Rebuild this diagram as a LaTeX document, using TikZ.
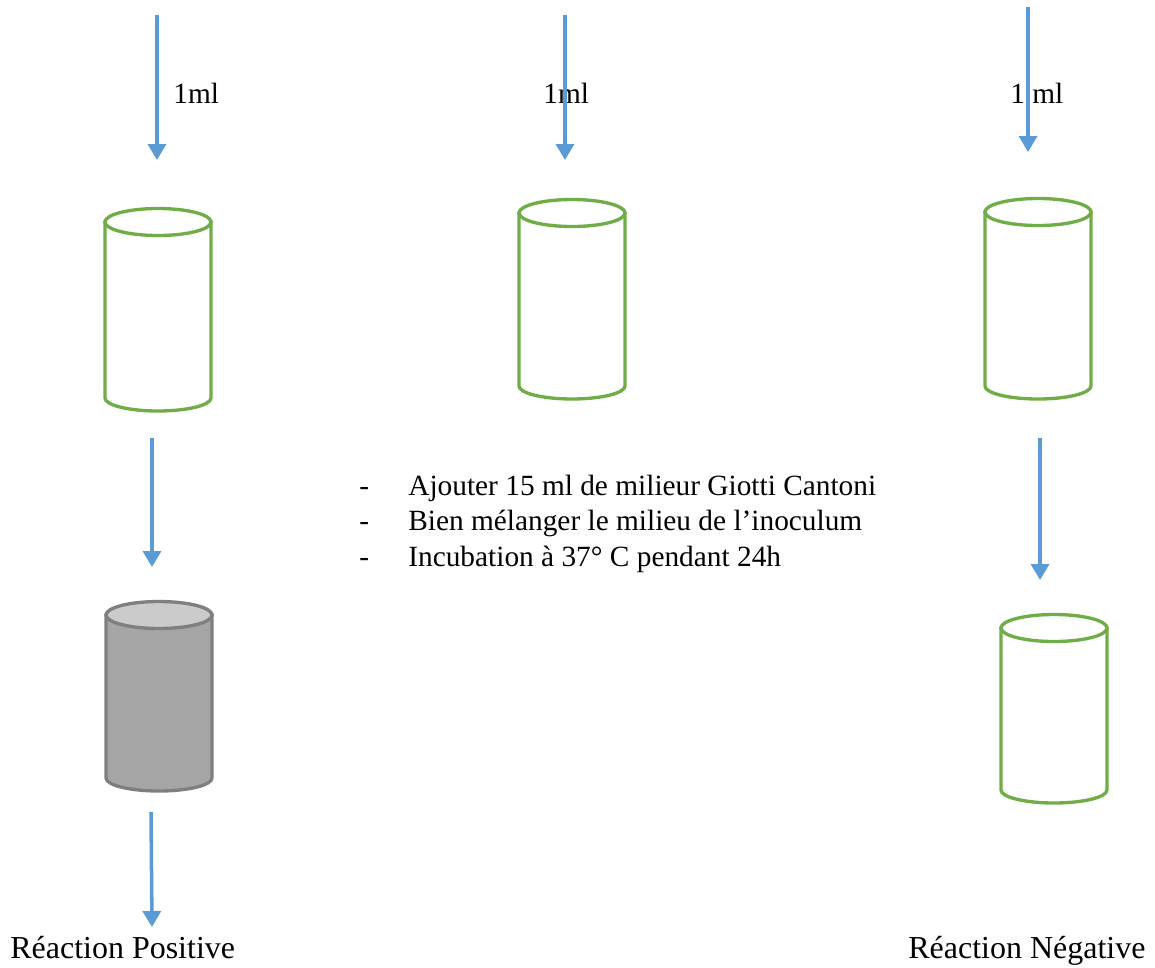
\documentclass[tikz,border=0pt]{standalone}
\usepackage{fontspec}
\setmainfont{Liberation Serif}
\usetikzlibrary{arrows.meta}

\definecolor{flowblue}{HTML}{5B9BD5}
\definecolor{tubegreen}{HTML}{70AD47}
\definecolor{tubegrey}{HTML}{A5A5A5}
\definecolor{tubetop}{HTML}{CBCBCB}
\definecolor{tubeedge}{HTML}{7F7F7F}

% cylinder: #1 centre x, #2 top centre y, #3 bottom centre y, #4 style of the body, #5 style of the top
\newcommand{\tube}[5]{%
  \path[#4] (#1-53,#2) -- (#1-53,#3)
    arc[start angle=180, end angle=360, x radius=1.06cm, y radius=0.26cm]
    -- (#1+53,#2) -- cycle;
  \path[#5] (#1,#2) ellipse[x radius=1.06cm, y radius=0.27cm];
}

\begin{document}
\begin{tikzpicture}[x=0.02cm, y=-0.02cm,
  flow/.style={draw=flowblue, line width=2pt,
    -{Triangle[length=0.32cm, width=0.36cm]}},
  greenwall/.style={draw=tubegreen, line width=1.9pt, fill=white},
  greywall/.style={draw=tubeedge, line width=1.9pt, fill=tubegrey},
  greytop/.style={draw=tubeedge, line width=1.9pt, fill=tubetop},
  lbl/.style={inner sep=0pt, anchor=base west, font=\fontsize{18.2}{20.6}\selectfont},
  small/.style={lbl, font=\fontsize{16.7}{19}\selectfont}]

\useasboundingbox (0,0) rectangle (1155,967);

% test tubes
\tube{158}{222}{398}{greenwall}{greenwall}
\tube{572}{213}{386}{greenwall}{greenwall}
\tube{1038}{212}{386}{greenwall}{greenwall}
\tube{159}{615}{778}{greywall}{greytop}
\tube{1054}{628}{790}{greenwall}{greenwall}

% arrow end points
\coordinate (a1s) at (157,15);   \coordinate (a1e) at (157,160);
\coordinate (a2s) at (565,15);   \coordinate (a2e) at (565,160);
\coordinate (a3s) at (1028,7);   \coordinate (a3e) at (1028,152);
\coordinate (a4s) at (152,438);  \coordinate (a4e) at (152,567);
\coordinate (a5s) at (1040,438); \coordinate (a5e) at (1040,580);
\coordinate (a6s) at (151,812);  \coordinate (a6e) at (152,927);

% volume labels
\node[small] (v1) at (173,103) {1ml};
\node[small] (v2) at (543,103) {1ml};
\node[small] (v3) at (1010,103) {1 ml};

\draw[flow] (a1s) -- (a1e);
\draw[flow] (a2s) -- (a2e);
\draw[flow] (a3s) -- (a3e);
\draw[flow] (a4s) -- (a4e);
\draw[flow] (a5s) -- (a5e);
\draw[flow] (a6s) -- (a6e);

% procedure steps
\node[small] (d1) at (359,495) {-};
\node[small] (d2) at (359,530) {-};
\node[small] (d3) at (359,566) {-};
\node[small] (s1) at (408,495) {Ajouter 15 ml de milieur Giotti Cantoni};
\node[small] (s2) at (408,530) {Bien mélanger le milieu de l’inoculum};
\node[small] (s3) at (408,566) {Incubation à 37° C pendant 24h};

% results
\node[lbl] (pos) at (10,958) {Réaction Positive};
\node[lbl] (neg) at (908,958) {Réaction Négative};

\end{tikzpicture}
\end{document}
